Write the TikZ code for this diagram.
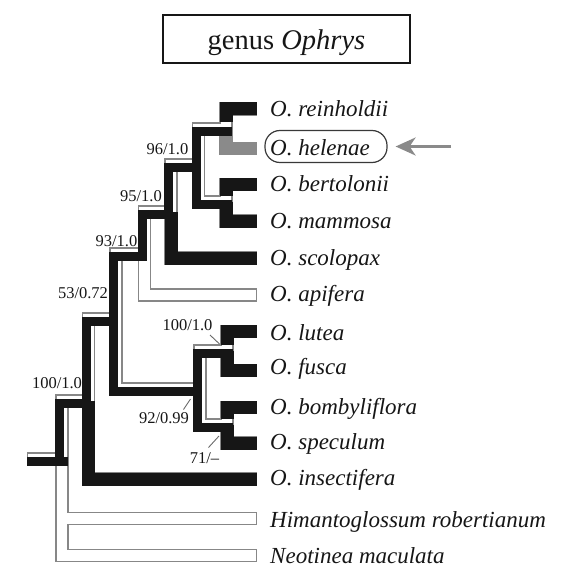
\documentclass[tikz,border=0pt]{standalone}
\usepackage{fontspec}
\setmainfont{Liberation Serif}
\usetikzlibrary{calc,arrows.meta}
\definecolor{treeblack}{HTML}{161616}
\definecolor{outl}{HTML}{878787}
\definecolor{helgrey}{HTML}{8A8A8A}
\definecolor{leadgrey}{HTML}{6A6A6A}
\begin{document}
\begin{tikzpicture}[x=1pt,y=-1pt,
  hollowo/.style={draw=outl, line width=13.2pt, line cap=rect, line join=miter},
  hollowi/.style={draw=white, line width=10.8pt, line cap=rect, line join=miter},
  fullb/.style={draw=treeblack, line width=13pt, line cap=butt, line join=miter},
  fullg/.style={draw=helgrey, line width=13pt, line cap=butt, line join=miter},
  stripb/.style={draw=treeblack, line width=9pt, line cap=rect, line join=miter},
  tiplab/.style={anchor=base west, inner sep=0pt, font=\fontsize{23}{26}\selectfont\itshape, text=treeblack},
  suplab/.style={anchor=base, inner sep=0pt, font=\fontsize{16.5}{19}\selectfont, text=treeblack},
  leader/.style={draw=leadgrey, line width=0.9pt},
  arr/.style={draw=helgrey, line width=2.2pt, -{Stealth[length=20pt,width=18pt,inset=6pt]}}
]
\useasboundingbox (0,0) rectangle (565,588);
% tree nodes
\coordinate (s) at (33.5,459);
\coordinate (n0) at (62,459);
\coordinate (n100b) at (88.5,401);
\coordinate (n53) at (116,319);
\coordinate (n93) at (144.5,254);
\coordinate (n95) at (171,212);
\coordinate (n96) at (198.5,165);
\coordinate (nRH) at (226,129);
\coordinate (nBM) at (226,202);
\coordinate (n92) at (200,389);
\coordinate (nLF) at (227,351);
\coordinate (nBS) at (227,425);
% tips
\coordinate (t1) at (250.5,109);
\coordinate (t2) at (250.5,148.5);
\coordinate (t3) at (250.5,184.5);
\coordinate (t4) at (250.5,221);
\coordinate (t5) at (250.5,258);
\coordinate (t6) at (250.5,295);
\coordinate (t7) at (250.5,331.5);
\coordinate (t8) at (250.5,370.5);
\coordinate (t9) at (250.5,407.5);
\coordinate (t10) at (250.5,443);
\coordinate (t11) at (250.5,479);
\coordinate (t12) at (250.5,518.5);
\coordinate (t13) at (250.5,555.5);
% hollow tree
\draw[hollowo] (s) -- (n0);
\foreach \p/\c in {n0/n100b,n0/t12,n0/t13,n100b/n53,n100b/t11,n53/n93,n53/n92,n93/n95,n93/t6,n95/n96,n95/t5,n96/nRH,n96/nBM,nRH/t1,nRH/t2,nBM/t3,nBM/t4,n92/nLF,n92/nBS,nLF/t7,nLF/t8,nBS/t9,nBS/t10}
  \draw[hollowo] (\p) |- (\c);
\draw[hollowi] (s) -- (n0);
\foreach \p/\c in {n0/n100b,n0/t12,n0/t13,n100b/n53,n100b/t11,n53/n93,n53/n92,n93/n95,n93/t6,n95/n96,n95/t5,n96/nRH,n96/nBM,nRH/t1,nRH/t2,nBM/t3,nBM/t4,n92/nLF,n92/nBS,nLF/t7,nLF/t8,nBS/t9,nBS/t10}
  \draw[hollowi] (\p) |- (\c);
% terminal branches
\draw[fullb] ($(nRH)+(0,-6.5)$) |- (t1) -- ++(6.6,0);
\draw[fullg] (nRH) |- (t2) -- ++(6.6,0);
\draw[fullb] ($(nBM)+(0,-6.5)$) |- (t3) -- ++(6.6,0);
\draw[fullb] (nBM) |- (t4) -- ++(6.6,0);
\draw[fullb] (n95) |- (t5) -- ++(6.6,0);
\draw[fullb] ($(nLF)+(0,-6.5)$) |- (t7) -- ++(6.6,0);
\draw[fullb] (nLF) |- (t8) -- ++(6.6,0);
\draw[fullb] ($(nBS)+(0,-6.5)$) |- (t9) -- ++(6.6,0);
\draw[fullb] (nBS) |- (t10) -- ++(6.6,0);
\draw[fullb] (n100b) |- (t11) -- ++(6.6,0);
% internal branches
\begin{scope}[transform canvas={shift={(-2.1pt,-2.1pt)}}]
  \draw[stripb] (s) -- ($(n0)+(4,0)$);
  \foreach \p/\c in {n0/n100b,n100b/n53,n53/n93,n53/n92,n93/n95,n95/n96}
    \draw[stripb] (\p) |- (\c);
  \draw[stripb] (n96) |- ($(nRH)+(4,0)$);
  \draw[stripb] (n96) |- ($(nBM)+(4,0)$);
  \draw[stripb] (n92) |- ($(nLF)+(4,0)$);
  \draw[stripb] (n92) |- ($(nBS)+(4,0)$);
\end{scope}
% title
\node[draw=treeblack, line width=1.3pt, minimum width=247pt, minimum height=48pt, inner sep=0pt] (tbox) at (286.5,39) {};
\node[anchor=base, inner sep=0pt, font=\fontsize{28.5}{32}\selectfont, text=treeblack] (ttl) at (286.5,50) {genus \textit{Ophrys}};
% tip labels
\node[tiplab] (L1) at (270,116.5) {O. reinholdii};
\node[tiplab] (L2) at (270,155.5) {O. helenae};
\node[tiplab] (L3) at (270,191.5) {O. bertolonii};
\node[tiplab] (L4) at (270,228.5) {O. mammosa};
\node[tiplab] (L5) at (270,265.5) {O. scolopax};
\node[tiplab] (L6) at (270,301.5) {O. apifera};
\node[tiplab] (L7) at (270,340.5) {O. lutea};
\node[tiplab] (L8) at (270,374.5) {O. fusca};
\node[tiplab] (L9) at (270,414.5) {O. bombyliflora};
\node[tiplab] (L10) at (270,449.5) {O. speculum};
\node[tiplab] (L11) at (270,485.5) {O. insectifera};
\node[tiplab] (L12) at (270,527) {Himantoglossum robertianum};
\node[tiplab] (L13) at (270,563.5) {Neotinea maculata};
% helenae box and arrow
\node[draw=treeblack!85, line width=1.2pt, rounded corners=15pt, minimum width=122pt, minimum height=32pt, inner sep=0pt] (hbox) at (326,146.5) {};
\coordinate (atail) at (451,146.5);
\draw[arr, shorten >=8pt] (atail) -- (hbox.east);
% support labels
\node[suplab] (S96) at (167.5,154) {96/1.0};
\node[suplab] (S95) at (141,201) {95/1.0};
\node[suplab] (S93) at (116.5,246) {93/1.0};
\node[suplab] (S53) at (83,298.5) {53/0.72};
\node[suplab] (SLF) at (187.5,330.5) {100/1.0};
\node[suplab] (S100) at (57,388.5) {100/1.0};
\node[suplab] (S92) at (164,423) {92/0.99};
\node[suplab] (SBS) at (204.5,463) {71/–};
% leaders
\coordinate (la1) at (210,335);
\coordinate (la2) at (219.5,344);
\coordinate (lb1) at (183.5,409.5);
\coordinate (lb2) at (190.5,399);
\coordinate (lc1) at (208.5,447.5);
\coordinate (lc2) at (219,436);
\draw[leader] (la1) -- (la2);
\draw[leader] (lb1) -- (lb2);
\draw[leader] (lc1) -- (lc2);
\end{tikzpicture}
\end{document}
